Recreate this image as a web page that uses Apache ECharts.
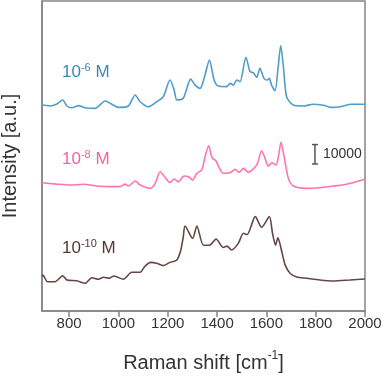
<!DOCTYPE html>
<html>
<head>
<meta charset="utf-8">
<script src="https://cdn.jsdelivr.net/npm/echarts@6/dist/echarts.min.js"></script>
<style>
  html, body { margin: 0; padding: 0; background: #fff; }
  #chart { width: 385px; height: 376px; }
</style>
</head>
<body>
<div id="chart"></div>
<script>
  // Raman spectra, [shift cm-1, intensity a.u.], traces already offset
  const spec6 = [
    [690, 106200], [693, 106300], [723, 105800], [750, 106800], [774, 108900], [791, 105800],
    [811, 104900], [838, 106000], [865, 104900], [905, 104600], [946, 108400], [973, 106700],
    [1000, 105100], [1040, 105800], [1068, 111500], [1088, 108000], [1121, 105400], [1155, 108000],
    [1182, 110600], [1209, 119200], [1226, 114100], [1237, 108900], [1263, 109800], [1293, 119700],
    [1311, 116600], [1331, 114900], [1351, 121800], [1369, 129500], [1388, 119200], [1405, 116100],
    [1439, 115800], [1453, 117500], [1466, 116600], [1480, 119200], [1493, 118300], [1517, 130900],
    [1534, 123500], [1547, 123000], [1561, 120600], [1574, 125300], [1590, 120100], [1604, 119200],
    [1612, 120100], [1621, 116600], [1635, 113700], [1648, 126100], [1658, 136900], [1669, 126100],
    [1682, 110600], [1709, 106300], [1750, 105800], [1790, 106700], [1831, 106200], [1865, 105100],
    [1898, 105400], [1946, 106700], [2000, 106700]
  ];
  const spec8 = [
    [690, 66300], [693, 66200], [750, 65500], [804, 65000], [858, 65400], [912, 64500], [966, 64200],
    [1007, 64200], [1027, 65500], [1040, 64500], [1068, 67100], [1088, 65000], [1129, 63300],
    [1149, 65900], [1169, 71900], [1189, 69000], [1209, 66200], [1226, 68100], [1243, 66700],
    [1266, 69700], [1284, 69300], [1301, 67600], [1318, 71100], [1338, 72800], [1351, 79600],
    [1366, 85300], [1380, 79000], [1395, 77500], [1425, 71100], [1453, 71400],
    [1473, 73100], [1490, 71600], [1507, 73600], [1527, 71600], [1561, 75400],
    [1581, 82700], [1597, 77900], [1608, 74800], [1622, 76500], [1639, 75400], [1650, 80500],
    [1659, 87100], [1672, 79600], [1689, 68500], [1709, 64500], [1764, 63300], [1818, 63600],
    [1872, 64500], [1926, 65400], [2000, 68000]
  ];
  const spec10 = [
    [690, 18000], [693, 18600], [699, 17700], [712, 15100], [743, 15100], [774, 18200], [791, 16000],
    [831, 15600], [865, 14300], [892, 17200], [919, 16400], [939, 17400], [962, 16900], [982, 18100],
    [1020, 16400], [1054, 20000], [1088, 20000], [1108, 23200], [1131, 25100], [1155, 24600],
    [1182, 23400], [1209, 25100], [1237, 26300], [1253, 31500], [1263, 38300], [1270, 43900],
    [1301, 37500], [1318, 43900], [1345, 33900], [1372, 34100], [1396, 37200], [1425, 32800],
    [1440, 33500], [1459, 31500], [1486, 34900], [1507, 40100], [1522, 39500], [1555, 48700],
    [1581, 43200], [1612, 48700], [1625, 40000], [1637, 34000], [1647, 37800], [1660, 32000],
    [1676, 23800], [1696, 19500], [1723, 17600], [1764, 16900], [1817, 16000], [1871, 15500],
    [1939, 16000], [2000, 16500]
  ];
  const xTicks = [800, 1000, 1200, 1400, 1600, 1800, 2000];
  const scaleBar = [[1797, 75900, 85900]];
  const scaleBarLabel = '10000';

  const font = 'Liberation Sans, Arial, sans-serif';
  const frameColor = '#858585';
  const textColor = '#333333';

  let myChart = echarts.init(document.getElementById('chart'));

  function tag (text, color, top) {
    return {
      type: 'text',
      left: 62,
      top: top,
      style: {
        text: text,
        fill: color,
        font: '17px ' + font,
        rich: {
          n: { fontSize: 17, fontFamily: font, fill: color },
          sup: { fontSize: 11, fontFamily: font, fill: color, padding: [0, 0, 9, 0] }
        }
      }
    };
  }

  myChart.setOption({
    animation: false,
    grid: {
      left: 42,
      right: 20,
      top: 1,
      bottom: 65,
      outerBoundsMode: 'none',
      containLabel: false,
      show: true,
      borderColor: frameColor,
      borderWidth: 1.5,
      backgroundColor: 'transparent'
    },
    xAxis: {
      type: 'value',
      min: 690,
      max: 2000,
      name: 'Raman shift [cm{sup|-1}]',
      nameLocation: 'middle',
      nameGap: 39,
      nameTextStyle: {
        color: textColor,
        fontSize: 20,
        fontFamily: font,
        rich: {
          sup: { fontSize: 12, fontFamily: font, color: textColor, padding: [0, 0, 14, 0] }
        }
      },
      axisLine: { show: true, lineStyle: { color: frameColor, width: 1.5 } },
      axisTick: {
        show: true,
        inside: false,
        length: 6,
        customValues: xTicks,
        lineStyle: { color: frameColor, width: 1.5 }
      },
      axisLabel: {
        show: true,
        customValues: xTicks,
        margin: 5,
        color: textColor,
        fontSize: 15,
        fontFamily: font,
        formatter: function (v) {
          return String(v);
        }
      },
      splitLine: { show: false }
    },
    yAxis: {
      type: 'value',
      min: 0,
      max: 160000,
      name: 'Intensity [a.u.]',
      nameLocation: 'middle',
      nameGap: 22,
      nameTextStyle: {
        color: textColor,
        fontSize: 20,
        fontFamily: font
      },
      axisLine: { show: true, lineStyle: { color: frameColor, width: 1.5 } },
      axisTick: { show: false },
      axisLabel: { show: false },
      splitLine: { show: false }
    },
    graphic: [
      tag('{n|10}{sup|-6}{n| M}', '#3b88b9', 62),
      tag('{n|10}{sup|-8}{n| M}', '#f2649c', 149),
      tag('{n|10}{sup|-10}{n| M}', '#5a3434', 238)
    ],
    series: [
      {
        name: '10-6 M',
        type: 'line',
        data: spec6,
        showSymbol: false,
        smooth: 0.25,
        lineStyle: { color: '#519cc8', width: 1.6 }
      },
      {
        name: '10-8 M',
        type: 'line',
        data: spec8,
        showSymbol: false,
        smooth: 0.25,
        lineStyle: { color: '#ff74ac', width: 1.6 }
      },
      {
        name: '10-10 M',
        type: 'line',
        data: spec10,
        showSymbol: false,
        smooth: 0.25,
        lineStyle: { color: '#654646', width: 1.6 }
      },
      {
        name: 'scale',
        type: 'custom',
        data: scaleBar,
        renderItem: function (params, api) {
          let bottom = api.coord([api.value(0), api.value(1)]);
          let top = api.coord([api.value(0), api.value(2)]);
          let style = { stroke: '#555555', lineWidth: 1.5 };
          return {
            type: 'group',
            children: [
              { type: 'line', shape: { x1: top[0], y1: top[1], x2: bottom[0], y2: bottom[1] }, style: style },
              { type: 'line', shape: { x1: top[0] - 3, y1: top[1], x2: top[0] + 3, y2: top[1] }, style: style },
              { type: 'line', shape: { x1: bottom[0] - 3, y1: bottom[1], x2: bottom[0] + 3, y2: bottom[1] }, style: style },
              {
                type: 'text',
                x: top[0] + 8,
                y: (top[1] + bottom[1]) / 2,
                style: {
                  text: scaleBarLabel,
                  fill: textColor,
                  font: '14px ' + font,
                  verticalAlign: 'middle'
                }
              }
            ]
          };
        }
      }
    ]
  });
</script>
</body>
</html>
